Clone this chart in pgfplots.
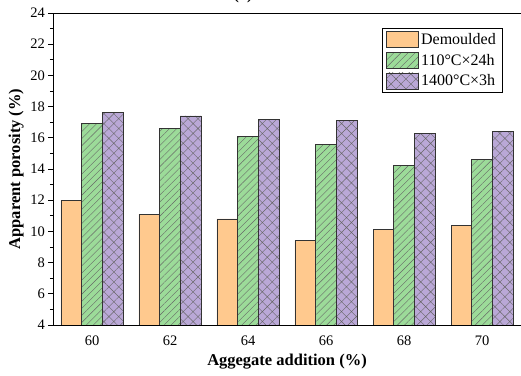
\documentclass[border=0pt]{standalone}
\usepackage{fontspec}
\setmainfont{Liberation Serif}
\usepackage{pgfplots}
\pgfplotsset{compat=1.18}
\usetikzlibrary{patterns.meta,calc}
\definecolor{cOr}{RGB}{255,201,142}
\definecolor{cGr}{RGB}{156,219,153}
\definecolor{cPu}{RGB}{186,168,215}
\begin{document}
\begin{tikzpicture}
\begin{axis}[name=ax,
  width=468pt, height=312pt, scale only axis,
  ybar=0pt, bar width=0.265,
  xmin=-0.5, xmax=5.5, ymin=4, ymax=24,
  ytick={4,6,...,24}, minor y tick num=1,
  xtick={0,1,2,3,4,5}, xticklabels={60,62,64,66,68,70},
  x tick style={draw=none},
  extra x ticks={0.5,1.5,2.5,3.5,4.5}, extra x tick labels={},
  extra x tick style={major tick length=5pt, tick style={draw=black, thick}},
  tick pos=left, tick align=outside,
  major tick length=4.5pt, minor tick length=3pt,
  every tick/.style={black, line width=0.8pt},
  axis line style={black, line width=0.9pt},
  /pgf/number format/assume math mode=true,
  tick label style={font=\fontsize{14.5}{16}\selectfont},
  xticklabel style={yshift=-3pt},
  xlabel={\textbf{Aggegate addition (\%)}},
  ylabel={\textbf{Apparent porosity (\%)}},
  label style={font=\fontsize{16.5}{18}\selectfont},
  xlabel style={yshift=8pt},
  ylabel style={yshift=0pt},
  legend cell align=left,
  legend style={at={(1,1)}, anchor=north east, xshift=-19pt, yshift=-15pt,
    draw=black, line width=0.5pt, font=\fontsize{16}{18}\selectfont,
    row sep=4pt, inner xsep=4pt, inner ysep=3pt},
  legend image code/.code={\draw[#1, line width=0.7pt] (0pt,-8pt) rectangle (32pt,8pt);},
]
\addplot[draw=black!80, line width=0.8pt, fill=cOr] coordinates {(0,12.0) (1,11.1) (2,10.8) (3,9.4) (4,10.1) (5,10.4)};
\addplot[draw=black!80, line width=0.8pt, fill=cGr, postaction={pattern={Lines[angle=45,distance=5pt,line width=0.4pt]}, pattern color=black!60}] coordinates {(0,16.9) (1,16.6) (2,16.1) (3,15.6) (4,14.2) (5,14.6)};
\addplot[draw=black!80, line width=0.8pt, fill=cPu, postaction={pattern={Hatch[angle=45,distance=7pt,line width=0.4pt]}, pattern color=black!60}] coordinates {(0,17.6) (1,17.4) (2,17.2) (3,17.1) (4,16.3) (5,16.4)};
\legend{Demoulded, 110°C×24h, 1400°C×3h}
\end{axis}
\node[anchor=base, font=\fontsize{16}{18}\selectfont\bfseries] at ($(ax.north west)+(190pt,13pt)$) {(a)};
\pgfresetboundingbox
\path[use as bounding box] ($(ax.south west)+(-53pt,-51pt)$) rectangle ($(ax.north east)+(0pt,13pt)$);
\end{tikzpicture}
\end{document}
